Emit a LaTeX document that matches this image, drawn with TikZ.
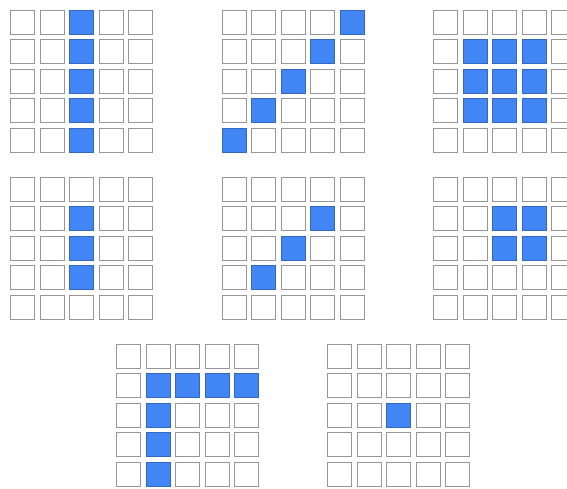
\documentclass[tikz,border=0pt]{standalone}
\definecolor{cellblue}{RGB}{66,133,244}
\definecolor{cellblueedge}{RGB}{52,104,190}
\definecolor{celledge}{RGB}{150,150,150}
\tikzset{
  cell/.style={draw=celledge, line width=1pt, minimum size=24pt, inner sep=0pt, outer sep=0pt},
  off/.style={fill=white},
  on/.style={fill=cellblue, draw=cellblueedge}
}
\newcommand\gridat[4]{%
  \foreach \p in {#4}{\global\expandafter\let\csname fl-#1-\p\endcsname\relax}%
  \foreach \r in {0,...,4}{\foreach \c in {0,...,4}{%
    \ifcsname fl-#1-\r-\c\endcsname\def\st{on}\else\def\st{off}\fi
    \node[cell,\st] (#1-\r-\c) at ({#2+\c*29.5+12.5},{-#3-\r*29.5-12.5}) {};
  }}%
}
\begin{document}
\begin{tikzpicture}[x=1pt,y=1pt]
\useasboundingbox (0,0) rectangle (567,-488);
\gridat{ga}{10}{9.5}{0-2,1-2,2-2,3-2,4-2}
\gridat{gb}{221.5}{9.5}{0-4,1-3,2-2,3-1,4-0}
\gridat{gc}{433}{9.5}{1-1,1-2,1-3,2-1,2-2,2-3,3-1,3-2,3-3}
\gridat{gd}{10}{176.5}{1-2,2-2,3-2}
\gridat{ge}{221.5}{176.5}{1-3,2-2,3-1}
\gridat{gf}{433}{176.5}{1-2,1-3,2-2,2-3}
\gridat{gg}{116}{343.5}{1-1,1-2,1-3,1-4,2-1,3-1,4-1}
\gridat{gh}{327}{343.5}{2-2}
\end{tikzpicture}
\end{document}
